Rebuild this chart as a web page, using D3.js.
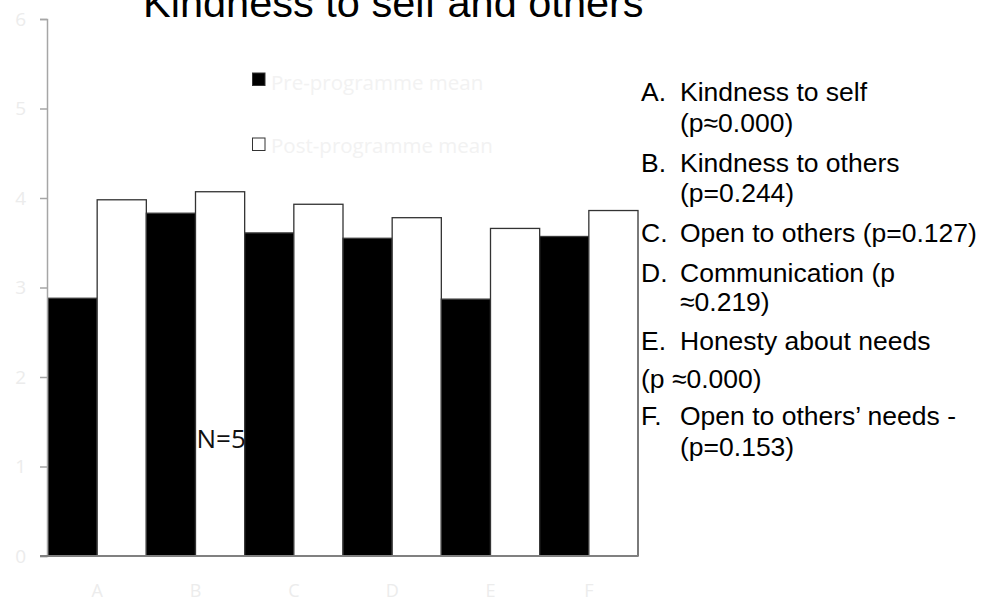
<!DOCTYPE html>
<html>
<head>
<meta charset="utf-8">
<script src="https://cdn.jsdelivr.net/npm/d3@7"></script>
<style>
  html, body { margin: 0; padding: 0; background: #ffffff; }
  svg { display: block; }
</style>
</head>
<body>
<script>
// Survey items and mean scores before / after the programme
const categories = ["A", "B", "C", "D", "E", "F"];
const seriesNames = ["Pre-programme mean", "Post-programme mean"];
const preMeans  = [2.88, 3.83, 3.61, 3.55, 2.87, 3.57];
const postMeans = [3.98, 4.07, 3.93, 3.78, 3.66, 3.86];
const yTicks = [0, 1, 2, 3, 4, 5, 6];

// Item descriptions with significance, one entry per printed line
const notes = [
  { tag: "A.", text: "Kindness to self" },
  { tag: "",   text: "(p\u22480.000)" },
  { tag: "B.", text: "Kindness to others" },
  { tag: "",   text: "(p=0.244)" },
  { tag: "C.", text: "Open to others (p=0.127)" },
  { tag: "D.", text: "Communication (p" },
  { tag: "",   text: "\u22480.219)" },
  { tag: "E.", text: "Honesty about needs" },
  { tag: null, text: "(p \u22480.000)" },
  { tag: "F.", text: "Open to others\u2019 needs -" },
  { tag: "",   text: "(p=0.153)" }
];
const noteBaselines = [101, 132, 171.5, 202, 241.5, 281.5, 311, 350, 388, 425, 455.5];

const W = 983, H = 603;
const plot = { left: 48, right: 638, top: 19, bottom: 556 };

const svg = d3.select("body").append("svg")
  .attr("width", W).attr("height", H);

svg.append("rect").attr("width", W).attr("height", H).attr("fill", "#ffffff");

const x = d3.scaleBand().domain(categories).range([plot.left, plot.right]).padding(0);
const xs = d3.scaleBand().domain(seriesNames).range([0, x.bandwidth()]).padding(0);
const y = d3.scaleLinear().domain([0, 6]).range([plot.bottom, plot.top]);

const rows = categories.map((c, i) => ({ cat: c, values: [preMeans[i], postMeans[i]] }));

// Bars
const groups = svg.append("g").selectAll("g")
  .data(rows).join("g")
  .attr("transform", d => `translate(${x(d.cat)},0)`);

groups.selectAll("rect")
  .data(d => d.values.map((v, k) => ({ s: seriesNames[k], v, k })))
  .join("rect")
  .attr("x", d => xs(d.s))
  .attr("width", xs.bandwidth())
  .attr("y", d => y(d.v))
  .attr("height", d => y(0) - y(d.v))
  .attr("fill", d => d.k === 0 ? "#000000" : "#ffffff")
  .attr("stroke", d => d.k === 0 ? "#3a3a3a" : "#333333")
  .attr("stroke-width", 1.3);

// Y axis
const yAxis = svg.append("g")
  .attr("transform", `translate(${plot.left - 1},0)`)
  .call(d3.axisLeft(y).tickValues(yTicks).tickFormat(d3.format("d")).tickSize(7).tickPadding(14));
yAxis.select(".domain").attr("stroke", "#a6a6a6").attr("stroke-width", 1.5);
yAxis.selectAll(".tick line").attr("stroke", "#a6a6a6").attr("stroke-width", 1.5);
yAxis.selectAll(".tick text")
  .attr("fill", "#ececec")
  .style("font-family", "'Open Sans', sans-serif")
  .style("font-size", "19px");

// X axis
const xAxis = svg.append("g")
  .attr("transform", `translate(0,${plot.bottom})`)
  .call(d3.axisBottom(x).tickSize(0).tickPadding(28));
xAxis.select(".domain").remove();
svg.append("line")
  .attr("x1", plot.left - 8).attr("x2", plot.right)
  .attr("y1", plot.bottom).attr("y2", plot.bottom)
  .attr("stroke", "#808080").attr("stroke-width", 1.8);
xAxis.selectAll(".tick text")
  .attr("fill", "#ececec")
  .style("font-family", "'Open Sans', sans-serif")
  .style("font-size", "18px");

// Title
svg.append("text")
  .attr("x", 143).attr("y", 17)
  .attr("fill", "#000000")
  .style("font-family", "'Liberation Sans', Arial, sans-serif")
  .style("font-size", "41.5px")
  .text("Kindness to self and others");

// Legend
const legend = svg.append("g");
const legendRows = [
  { name: seriesNames[0], fill: "#000000", y: 73, base: 90 },
  { name: seriesNames[1], fill: "#ffffff", y: 138, base: 153 }
];
legendRows.forEach(r => {
  legend.append("rect")
    .attr("x", 252.5).attr("y", r.y).attr("width", 12.5).attr("height", 12.5)
    .attr("fill", r.fill).attr("stroke", "#333333").attr("stroke-width", 1);
  legend.append("text")
    .attr("x", 271).attr("y", r.base)
    .attr("fill", "#f2f2f2")
    .style("font-family", "'Open Sans', sans-serif")
    .style("font-size", "20.5px")
    .text(r.name);
});

// Sample size
svg.append("text")
  .attr("x", 196.5).attr("y", 448)
  .attr("fill", "#111111")
  .style("font-family", "'Open Sans', sans-serif")
  .style("font-size", "26px")
  .text("N=5");

// Item key on the right
const key = svg.append("g")
  .style("font-family", "'Liberation Sans', Arial, sans-serif")
  .style("font-size", "26.5px")
  .attr("fill", "#000000");
notes.forEach((n, i) => {
  const yy = noteBaselines[i];
  if (n.tag === null) {
    key.append("text").attr("x", 641).attr("y", yy).text(n.text);
  } else {
    if (n.tag) key.append("text").attr("x", 641).attr("y", yy).text(n.tag);
    key.append("text").attr("x", 680).attr("y", yy).text(n.text);
  }
});
</script>
</body>
</html>
